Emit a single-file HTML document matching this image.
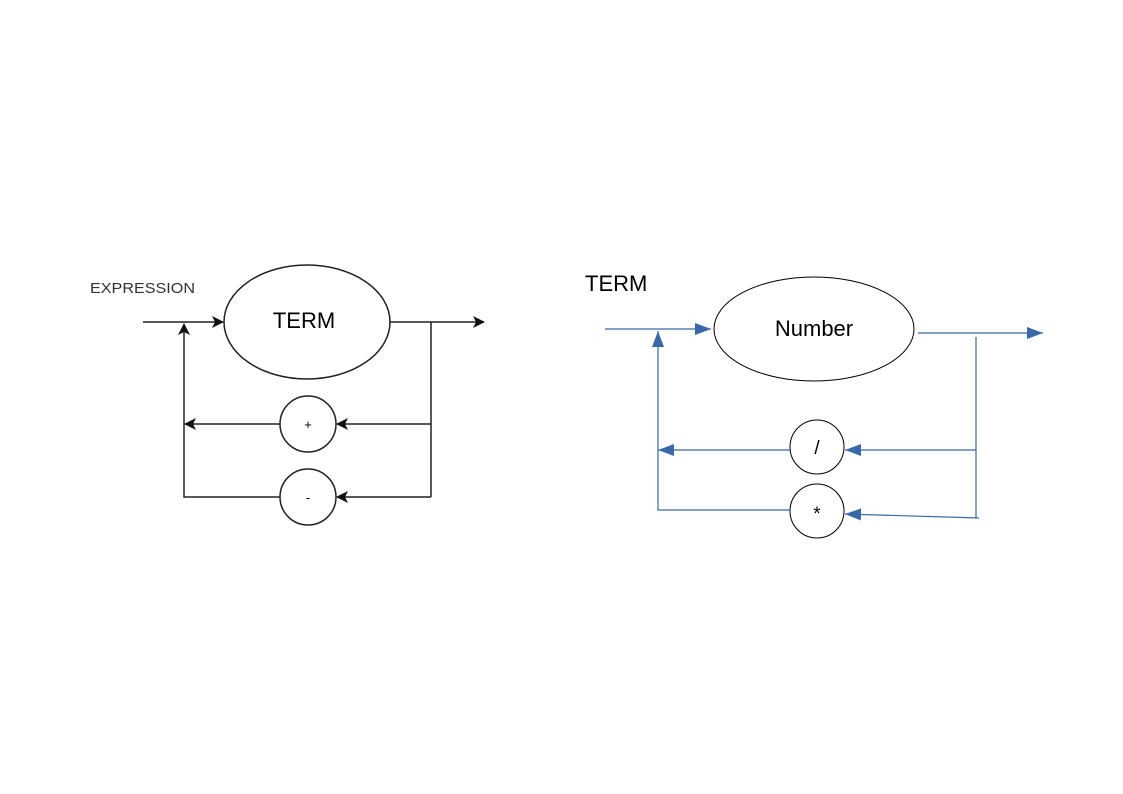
<!DOCTYPE html>
<html><head><style>body{margin:0;background:#fff}svg{display:block}</style></head><body>
<svg width="1123" height="794" viewBox="0 0 1123 794" xmlns="http://www.w3.org/2000/svg">
<defs>
<marker id="ak" markerWidth="12" markerHeight="12" refX="11" refY="6" orient="auto" markerUnits="userSpaceOnUse"><path d="M0,0 L12,6 L0,12 L3,6 z" fill="#111"/></marker>
<marker id="ab" markerWidth="16" markerHeight="12" refX="16" refY="6" orient="auto" markerUnits="userSpaceOnUse"><path d="M0,0 L16,6 L0,12 z" fill="#3a68a8"/></marker>
</defs>
<g stroke="#222" stroke-width="1.5" fill="none">
<ellipse cx="307" cy="322" rx="83" ry="57"/>
<circle cx="308" cy="424" r="28"/>
<circle cx="308" cy="497" r="28"/>
<line x1="143" y1="322" x2="223" y2="322" marker-end="url(#ak)"/>
<line x1="390" y1="322" x2="484" y2="322" marker-end="url(#ak)"/>
<polyline points="280,497 184,497 184,324" marker-end="url(#ak)"/>
<line x1="280" y1="424" x2="185" y2="424" marker-end="url(#ak)"/>
<line x1="431" y1="322" x2="431" y2="497"/>
<line x1="431" y1="424" x2="337" y2="424" marker-end="url(#ak)"/>
<line x1="431" y1="497" x2="337" y2="497" marker-end="url(#ak)"/>
</g>
<text x="90" y="293" font-family="Liberation Sans, sans-serif" font-size="15" fill="#333" textLength="105" lengthAdjust="spacingAndGlyphs">EXPRESSION</text>
<text x="304" y="328" font-family="Liberation Sans, sans-serif" font-size="22" text-anchor="middle">TERM</text>
<text x="308" y="429" font-family="Liberation Sans, sans-serif" font-size="13" text-anchor="middle">+</text>
<text x="308" y="502" font-family="Liberation Sans, sans-serif" font-size="13" text-anchor="middle">-</text>

<g stroke="#000" stroke-width="1" fill="none">
<ellipse cx="814" cy="329" rx="100" ry="52"/>
<circle cx="817" cy="447" r="27"/>
<circle cx="817" cy="511" r="27"/>
</g>
<g stroke="#3a68a8" stroke-width="1.2" fill="none">
<line x1="605" y1="329" x2="711" y2="329" marker-end="url(#ab)"/>
<line x1="918" y1="333" x2="1043" y2="333" marker-end="url(#ab)"/>
<polyline points="790,510 658,510 658,331" marker-end="url(#ab)"/>
<line x1="790" y1="450" x2="658" y2="450" marker-end="url(#ab)"/>
<line x1="976" y1="337" x2="976" y2="518"/>
<line x1="976" y1="450" x2="845" y2="450" marker-end="url(#ab)"/>
<line x1="979" y1="518" x2="845" y2="514" marker-end="url(#ab)"/>
</g>
<text x="585" y="291" font-family="Liberation Sans, sans-serif" font-size="22">TERM</text>
<text x="814" y="336" font-family="Liberation Sans, sans-serif" font-size="22" text-anchor="middle">Number</text>
<text x="817" y="454" font-family="Liberation Sans, sans-serif" font-size="19" text-anchor="middle">/</text>
<text x="817" y="520" font-family="Liberation Sans, sans-serif" font-size="19" text-anchor="middle">*</text>
</svg>
</body></html>
